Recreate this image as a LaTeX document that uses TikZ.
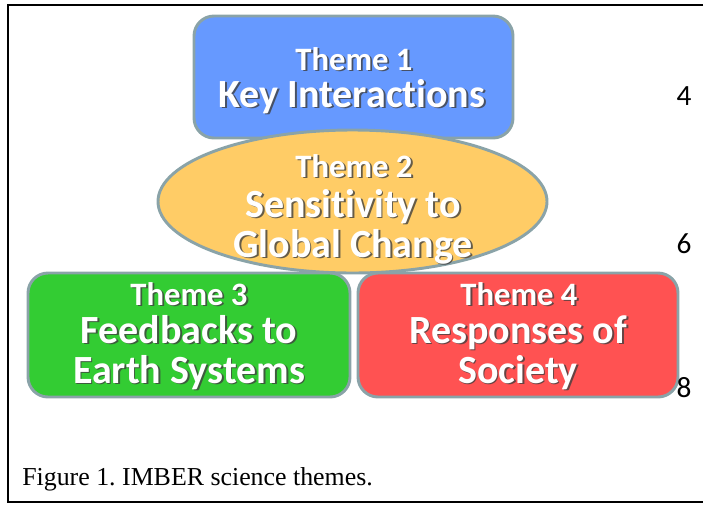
\documentclass[tikz,border=0pt]{standalone}
\usepackage{fontspec}
\usetikzlibrary{shapes.geometric}

\setmainfont{Liberation Serif}
\newfontfamily\themefont[RawFeature={-liga}]{Carlito}
\frenchspacing

\definecolor{themeblue}{RGB}{102,153,255}
\definecolor{themeorange}{RGB}{255,204,102}
\definecolor{themegreen}{RGB}{51,204,51}
\definecolor{themered}{RGB}{255,82,82}
\definecolor{themeedge}{RGB}{138,163,168}

\tikzset{
  theme box/.style={
    draw=themeedge,
    line width=2.2pt,
    rounded corners=15pt,
    inner sep=0pt
  },
  theme oval/.style={
    theme box,
    ellipse,
    rounded corners=0pt
  },
  head/.style={
    anchor=base,
    inner sep=0pt,
    font=\themefont\bfseries\fontsize{24.5}{24.5}\selectfont
  },
  title/.style={
    head,
    font=\themefont\bfseries\fontsize{30}{30}\selectfont
  },
  shade/.style={
    text=black!75,
    opacity=.8
  },
  pagenum/.style={
    anchor=base,
    inner sep=0pt,
    font=\themefont\fontsize{22}{22}\selectfont
  }
}

% white lettering over a dark drop shadow
\newcommand\themeline[5]{%
  \node[#1, shade] at (#3+1.8,#4+1.8) (#2-shade) {#5};
  \node[#1, text=white] at (#3,#4) (#2) {#5};
}

\begin{document}
\begin{tikzpicture}[x=0.75pt, y=-0.75pt]
  \useasboundingbox (0,0) rectangle (705,504);

  % page frame, open on the right
  \draw[line width=1.5pt] (703,5) -- (7.5,5) -- (7.5,502) -- (703,502);

  \node[theme box, fill=themeblue, minimum width=239.25pt, minimum height=91.5pt]
    at (353.5,77) (t1) {};
  \node[theme box, fill=themegreen, minimum width=241.5pt, minimum height=93pt]
    at (189,335) (t3) {};
  \node[theme box, fill=themered, minimum width=240pt, minimum height=93pt]
    at (518,335) (t4) {};
  \node[theme oval, fill=themeorange, minimum width=291.75pt, minimum height=107.25pt]
    at (352.5,201.5) (t2) {};

  \themeline{head}{t1-a}{354}{70}{Theme 1}
  \themeline{title}{t1-b}{352}{107}{Key Interactions}

  \themeline{head}{t2-a}{354}{177}{Theme 2}
  \themeline{title}{t2-b}{353}{217}{Sensitivity to}
  \themeline{title}{t2-c}{353}{257}{Global Change}

  \themeline{head}{t3-a}{189}{305}{Theme 3}
  \themeline{title}{t3-b}{189}{343}{Feedbacks to}
  \themeline{title}{t3-c}{189}{383}{Earth Systems}

  \themeline{head}{t4-a}{519}{305}{Theme 4}
  \themeline{title}{t4-b}{518}{343}{Responses of}
  \themeline{title}{t4-c}{518}{383}{Society}

  \node[pagenum] at (684,105) (n4) {4};
  \node[pagenum] at (684,253) (n6) {6};
  \node[pagenum] at (684,397) (n8) {8};

  \node[anchor=base west, inner sep=0pt, font=\fontsize{19.4}{19.4}\selectfont]
    at (22,485) (caption) {Figure 1. IMBER science themes.};
\end{tikzpicture}
\end{document}
